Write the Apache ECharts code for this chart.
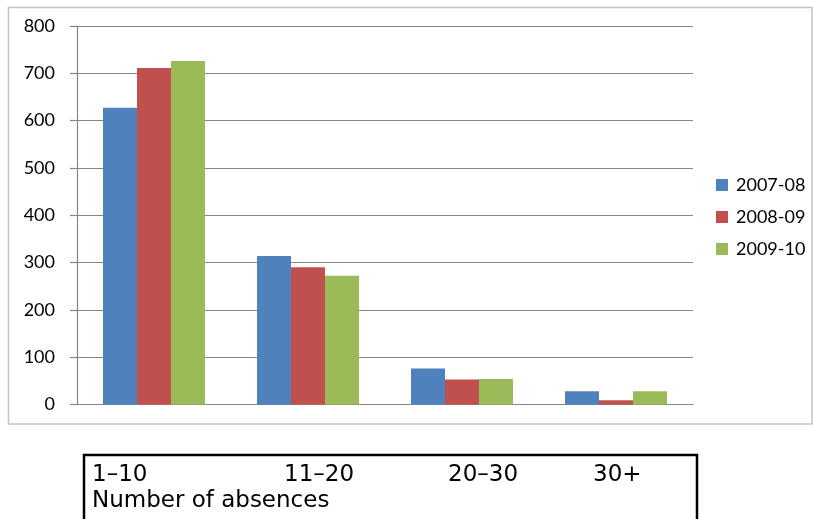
<!DOCTYPE html>
<html>
<head>
<meta charset="utf-8">
<script src="https://cdn.jsdelivr.net/npm/echarts@6/dist/echarts.min.js"></script>
<style>
html,body{margin:0;padding:0;background:#fff;}
#chart{width:813px;height:519px;}
</style>
</head>
<body>
<div id="chart"></div>
<script>
var categories = ['1–10', '11–20', '20–30', '30+'];
var seriesNames = ['2007-08', '2008-09', '2009-10'];
var values2007 = [627, 314, 76, 28];
var values2008 = [711, 290, 53, 9];
var values2009 = [726, 272, 54, 28];
var yTicks = [0, 100, 200, 300, 400, 500, 600, 700, 800];
var axisTitle = 'Number of absences';

var colors = ['#4f81bd', '#c0504d', '#9bbb59'];
var allValues = [values2007, values2008, values2009];
var labelX = [92, 284, 448, 593];

var chart = echarts.init(document.getElementById('chart'));

var graphics = [
  {type:'rect', shape:{x:8.5, y:7.5, width:803.5, height:416.5}, style:{fill:'none', stroke:'#c4c4c4', lineWidth:1.5}, z:-1},
  {type:'rect', shape:{x:84, y:455, width:613, height:80}, style:{fill:'none', stroke:'#000', lineWidth:2.5}}
];
categories.forEach(function(c, i){
  graphics.push({type:'text', left:labelX[i], top:464, style:{text:c, font:'23px "DejaVu Sans"', fill:'#000'}});
});
graphics.push({type:'text', left:92, top:490, style:{text:axisTitle, font:'23px "DejaVu Sans"', fill:'#000'}});

chart.setOption({
  animation:false,
  color: colors,
  grid:{left:77, right:120, top:26, bottom:114.5, containLabel:false},
  legend:{
    orient:'vertical', left:716, top:176, padding:0,
    itemWidth:12, itemHeight:12, itemGap:14,
    icon:'rect',
    textStyle:{fontFamily:'Lato', fontSize:18, color:'#000', padding:[0,0,0,3]},
    data: seriesNames
  },
  xAxis:{
    type:'category', data:categories,
    axisLine:{lineStyle:{color:'#868686', width:1.2}},
    axisTick:{show:false},
    axisLabel:{show:false}
  },
  yAxis:{
    type:'value', min:0, max:800, interval:100,
    axisLine:{show:true, lineStyle:{color:'#868686', width:1.2}},
    axisTick:{show:true, length:7, lineStyle:{color:'#868686', width:1.2}},
    splitLine:{lineStyle:{color:'#868686', width:1.2}},
    axisLabel:{fontFamily:'Lato', fontSize:18, color:'#000', margin:22,
      formatter:function(v){ return yTicks.indexOf(v) >= 0 ? String(v) : ''; }}
  },
  series: seriesNames.map(function(n, i){
    return {name:n, type:'bar', data:allValues[i], barWidth:34, barGap:'0%',
      itemStyle:{color:colors[i]}};
  }),
  graphic: graphics
});
</script>
</body>
</html>
